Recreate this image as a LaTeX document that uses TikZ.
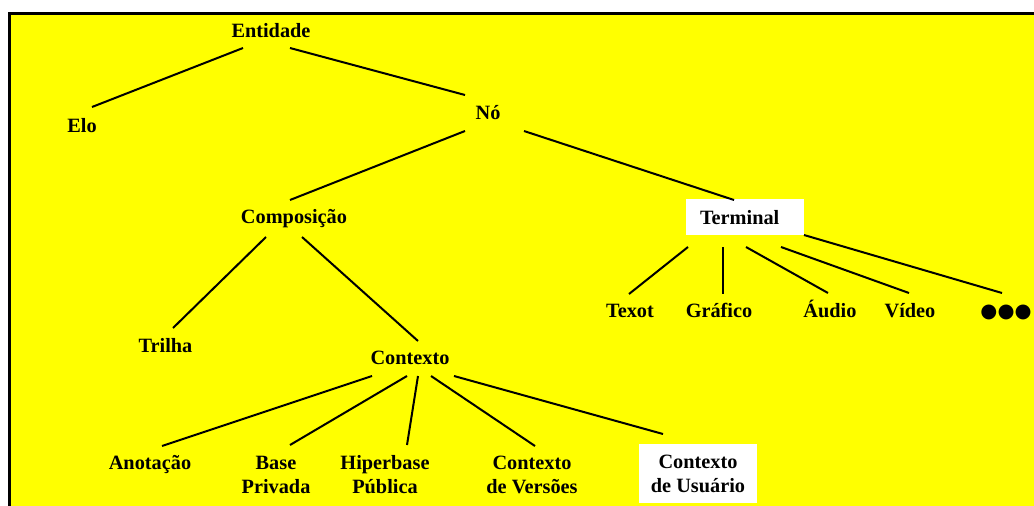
\documentclass[tikz,border=0pt]{standalone}
\usepackage{fontspec}
\setmainfont{Liberation Serif}
\newfontfamily\dejavu{DejaVu Sans}
\definecolor{bgyellow}{HTML}{FFFF00}
\tikzset{
  lbl/.style={font=\fontsize{20.3}{24}\selectfont\bfseries, inner sep=0pt, anchor=base, align=center},
  whitebox/.style={lbl, fill=white, minimum width=118pt},
  edge/.style={line width=2pt, black},
}
\newcommand\conn[6]{\draw[edge] ([shift={(#2,#3)}]#1.base) -- ([shift={(#5,#6)}]#4.base);}
\begin{document}
\begin{tikzpicture}[x=1pt,y=-1pt]
\useasboundingbox (0,0) rectangle (1034,506);
\fill[white] (0,0) rectangle (1034,506);
\fill[bgyellow] (9.5,13.5) rectangle (1034,506);
\draw[line width=3pt] (9.5,506) -- (9.5,13.5) -- (1034,13.5);

\node[lbl] (ent) at (271,37.5) {Entidade};
\node[lbl] (elo) at (82,132) {Elo};
\node[lbl] (no) at (488,119) {Nó};
\node[lbl] (comp) at (294,223.5) {Composição};
\node[whitebox, text width=90pt, align=left, inner xsep=14pt, minimum width=0pt, text height=17pt, text depth=3pt, inner ysep=8pt] (term) at (745,224) {Terminal};
\node[lbl] (texot) at (630,317) {Texot};
\node[lbl] (graf) at (719,317) {Gráfico};
\node[lbl] (audio) at (830,317) {Áudio};
\node[lbl] (video) at (910,317) {Vídeo};
\node[lbl, font=\fontsize{19.5}{19.5}\selectfont\dejavu] (dots) at (1006,317.4) {●●●};
\node[lbl] (tril) at (165.5,352) {Trilha};
\node[lbl] (ctx) at (410,364) {Contexto};
\node[lbl] (anot) at (150,469) {Anotação};
\node[lbl] (base) at (276,493) {Base\\Privada};
\node[lbl] (hiper) at (385,493) {Hiperbase\\Pública};
\node[lbl] (vers) at (532,493) {Contexto\\de Versões};
\node[whitebox, text height=37pt, text depth=0pt, inner ysep=11pt] (usu) at (698,492) {Contexto\\de Usuário};

\conn{ent}{-28}{10.5}{elo}{10}{-25}
\conn{ent}{19}{10.5}{no}{-23}{-24}
\conn{no}{-23}{12}{comp}{-4}{-23.5}
\conn{no}{36}{12}{term}{-11}{-24}
\conn{term}{-57}{23}{texot}{-1}{-23}
\conn{term}{-22}{23}{graf}{4}{-23}
\conn{term}{1}{23}{audio}{-2}{-24}
\conn{term}{36}{23}{video}{-1}{-24}
\conn{term}{59}{11}{dots}{-4}{-24.4}
\conn{comp}{-28}{13.5}{tril}{7.5}{-24}
\conn{comp}{8}{13.5}{ctx}{8}{-23}
\conn{ctx}{-38}{12}{anot}{12}{-23}
\conn{ctx}{-3}{12}{base}{14}{-48}
\conn{ctx}{8}{12}{hiper}{22}{-48}
\conn{ctx}{21}{12}{vers}{3}{-47}
\conn{ctx}{44}{12}{usu}{-35}{-58}
\end{tikzpicture}
\end{document}
